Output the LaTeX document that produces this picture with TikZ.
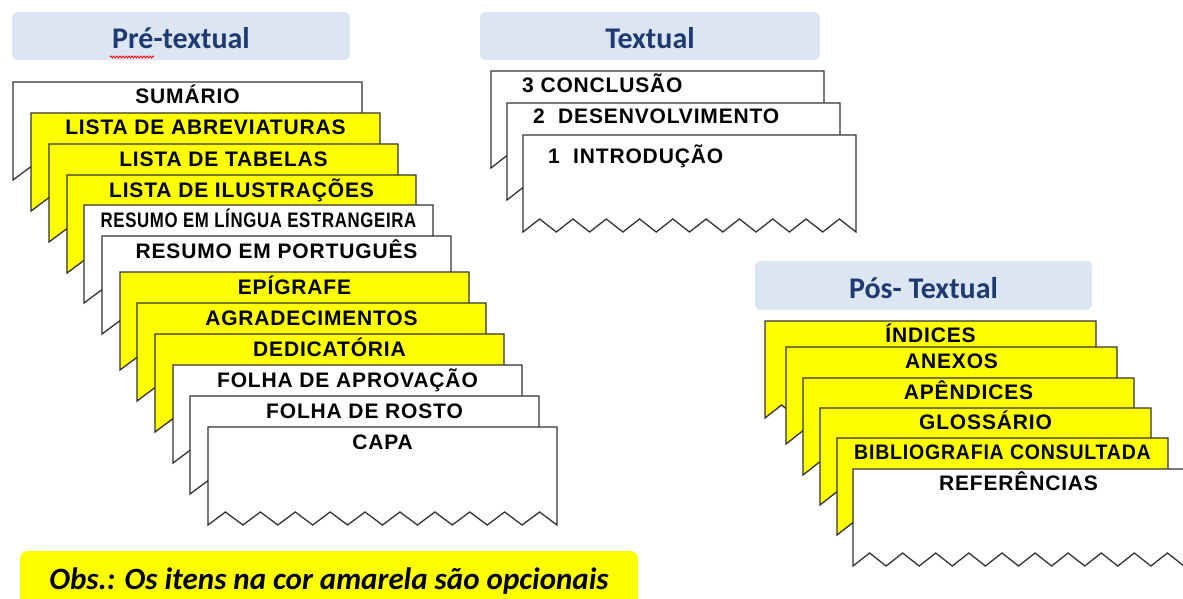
\documentclass[tikz,border=0pt]{standalone}
\usepackage{fontspec}
\setmainfont{Liberation Sans}
\newfontfamily\calibri{Carlito}
\usepackage{tikz}
\usetikzlibrary{decorations.pathmorphing}

\definecolor{titfundo}{HTML}{DCE6F2}
\definecolor{titazul}{HTML}{1F3A70}
\definecolor{amarelo}{HTML}{FFFF00}
\definecolor{borda}{HTML}{333333}

\tikzset{
	titulo/.style={fill=titfundo, rounded corners=5pt, minimum width=338pt, minimum height=48pt, inner sep=0pt, text height=25pt, text depth=0pt, text=titazul, font=\calibri\bfseries\fontsize{30}{36}\selectfont},
	folha/.style={draw=borda, line width=1.3pt, line join=miter},
	item/.style={inner sep=0pt, anchor=base, font=\bfseries\fontsize{21}{25}\selectfont\addfontfeature{LetterSpace=4}},
	obs/.style={fill=amarelo, rounded corners=8pt, minimum width=618pt, minimum height=70pt, inner sep=0pt, text height=12pt, text depth=6pt, font=\calibri\bfseries\itshape\fontsize{31}{36}\selectfont}
}

\begin{document}
\begin{tikzpicture}[x=1pt, y=-1pt]
\useasboundingbox (0,0) rectangle (1183,599);
\clip (0,0) rectangle (1183,599);

\node[titulo] (pretextual) at (181,36) {Pré-textual};
\node[titulo, minimum width=340pt] (textual) at (650,36) {Textual};
\node[titulo, minimum width=337pt, minimum height=49pt] (postextual) at (923.5,285.5) {Pós- Textual};
\draw[red, line width=0.8pt, decorate, decoration={snake, amplitude=1pt, segment length=3pt}] (110,57) -- (154,57);

\foreach \px/\py/\cor/\nome/\texto in {
	13/82/white/sumario/{SUMÁRIO},
	31/113/amarelo/abreviaturas/{LISTA DE ABREVIATURAS},
	49/144/amarelo/tabelas/{LISTA DE TABELAS},
	67/175/amarelo/ilustracoes/{LISTA DE ILUSTRAÇÕES},
	84/205/white/resumoestr/{\scalebox{0.8}[1]{RESUMO EM LÍNGUA ESTRANGEIRA}},
	102/236/white/resumopt/{RESUMO EM PORTUGUÊS},
	120/272/amarelo/epigrafe/{EPÍGRAFE},
	137/303/amarelo/agradecimentos/{AGRADECIMENTOS},
	155/334/amarelo/dedicatoria/{DEDICATÓRIA},
	173/365/white/aprovacao/{FOLHA DE APROVAÇÃO},
	190/396/white/rosto/{FOLHA DE ROSTO},
	208/427/white/capa/{CAPA}}{
	\filldraw[folha, fill=\cor] (\px,\py) -- ++(349,0) -- ++(0,98)
		\foreach \k in {1,...,10}{ -- ++(-17.45,-13) -- ++(-17.45,13)} -- cycle;
	\node[item] (\nome) at (\px+174.5,\py+22) {\texto};
}

\foreach \px/\py/\dx/\dy/\nome/\texto in {
	491/71/31/22/conclusao/{3~CONCLUSÃO},
	507/103/26/21/desenvolvimento/{2\ \ DESENVOLVIMENTO},
	523/135/25/28/introducao/{1\ \ INTRODUÇÃO}}{
	\filldraw[folha, fill=white] (\px,\py) -- ++(333,0) -- ++(0,97)
		\foreach \k in {1,...,10}{ -- ++(-16.65,-13) -- ++(-16.65,13)} -- cycle;
	\node[item, anchor=base west] (\nome) at (\px+\dx,\py+\dy) {\texto};
}

\foreach \px/\py/\cor/\nome/\texto in {
	765/321/amarelo/indices/{ÍNDICES},
	786/347/amarelo/anexos/{ANEXOS},
	803/378/amarelo/apendices/{APÊNDICES},
	820/408/amarelo/glossario/{GLOSSÁRIO},
	837/438/amarelo/bibliografia/{\scalebox{0.93}[1]{BIBLIOGRAFIA CONSULTADA}},
	853/469/white/referencias/{REFERÊNCIAS}}{
	\filldraw[folha, fill=\cor] (\px,\py) -- ++(331,0) -- ++(0,97)
		\foreach \k in {1,...,10}{ -- ++(-16.55,-13) -- ++(-16.55,13)} -- cycle;
	\node[item] (\nome) at (\px+165.5,\py+21) {\texto};
}

\node[obs] (obs) at (329,586) {Obs.: Os itens na cor amarela são opcionais};
\end{tikzpicture}
\end{document}
